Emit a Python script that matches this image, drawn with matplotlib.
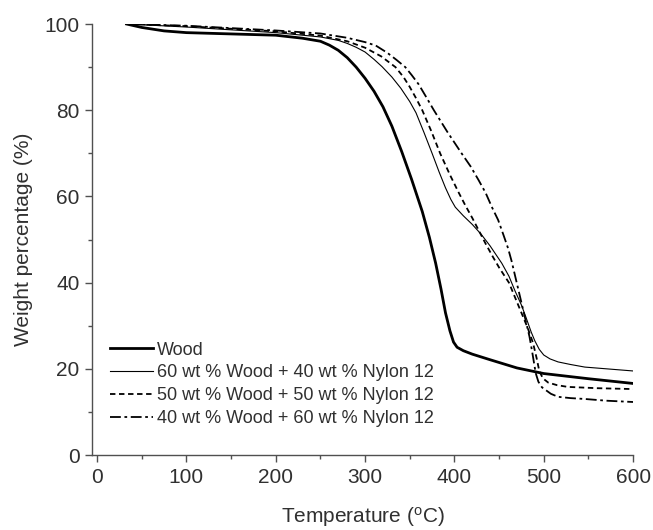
import matplotlib.pyplot as plt
from matplotlib.ticker import MultipleLocator

# TGA curves (temperature in C, weight in %)
wood_t = [33, 50, 75, 100, 150, 200, 230, 250, 260, 270, 280, 290, 300, 310,
          320, 330, 341, 352, 364, 372, 379, 385, 390, 395, 399, 403, 410, 420,
          440, 470, 500, 550, 600]
wood_w = [100, 99.2, 98.4, 98.0, 97.7, 97.4, 96.7, 96.0, 95.1, 93.9, 92.2, 90,
          87.4, 84.4, 80.8, 76.3, 70.4, 64, 56.5, 50.5, 44.5, 38.5, 33, 28.8, 26.2,
          25, 24.2, 23.4, 22.1, 20.2, 18.9, 17.7, 16.6]

w60_t = [35, 100, 200, 250, 270, 280, 290, 300, 310, 319, 330, 340, 350, 357,
         366, 375, 383, 390, 396, 401, 410, 420, 430, 440, 453, 461, 468, 475,
         480, 486, 490, 495, 500, 507, 516, 530, 546, 570, 600]
w60_w = [100, 99.3, 98.0, 97, 96.2, 95.5, 94.6, 93.5, 91.8, 90.1, 87.7, 85.1, 82,
         79.4, 74.8, 70, 65.6, 62, 59.3, 57.5, 55.5, 53.5, 51.2, 48.5, 44.5, 41.5,
         38, 34.8, 32, 28.5, 26.5, 24.5, 23.2, 22.3, 21.6, 21, 20.4, 20, 19.5]

w50_t = [35, 100, 200, 250, 280, 300, 318, 334, 343, 350, 357, 364, 374, 384,
         395, 405, 412, 420, 428, 435, 443, 450, 461, 468, 475, 482, 488, 492,
         495, 499, 505, 515, 527, 560, 600]
w50_w = [100, 99.5, 98.3, 97.3, 96, 94.5, 92.5, 90, 87.7, 85.4, 82.8, 80, 75.2, 70,
         65, 60.8, 58, 55, 51.8, 49, 46, 43.5, 40, 36.5, 33, 29.5, 26, 22.5,
         19.5, 17.8, 16.8, 16.2, 15.8, 15.5, 15.3]

w40_t = [35, 100, 200, 250, 280, 300, 312, 325, 335, 345, 352, 360, 368, 377,
         392, 408, 418, 427, 435, 442, 449, 455, 460, 464, 468, 472, 476, 480,
         484, 487, 489, 491, 494, 498, 502, 508, 516, 530, 546, 570, 600]
w40_w = [100, 99.6, 98.5, 97.8, 96.8, 95.8, 95, 93.3, 91.7, 90, 88.2, 86, 83.2,
         80, 75, 70, 67, 63.8, 60.8, 57.5, 54.5, 51, 48, 45, 41.5, 38, 34.5, 31,
         27.5, 24, 21.5, 19, 17, 15.7, 15.1, 14.2, 13.5, 13.2, 13, 12.6, 12.3]

labels = ["Wood",
          "60 wt % Wood + 40 wt % Nylon 12",
          "50 wt % Wood + 50 wt % Nylon 12",
          "40 wt % Wood + 60 wt % Nylon 12"]

plt.rcParams['font.family'] = ['Liberation Sans', 'DejaVu Sans']
plt.rcParams['mathtext.fontset'] = 'custom'
plt.rcParams['mathtext.rm'] = 'Liberation Sans'

fig = plt.figure(figsize=(6.53, 5.30), dpi=100)
ax = fig.add_axes([0.141, 0.1415, 0.8285, 0.8132])

ax.plot(wood_t, wood_w, color="black", lw=2.0, label=labels[0])
ax.plot(w60_t, w60_w, color="black", lw=0.8, label=labels[1])
ax.plot(w50_t, w50_w, color="black", lw=1.3, dashes=(3, 2), label=labels[2])
ax.plot(w40_t, w40_w, color="black", lw=1.3, dashes=(6, 2, 1.5, 2), label=labels[3])

ax.set_xlim(-5.6, 600)
ax.set_ylim(0, 100)
ax.xaxis.set_major_locator(MultipleLocator(100))
ax.xaxis.set_minor_locator(MultipleLocator(50))
ax.yaxis.set_major_locator(MultipleLocator(20))
ax.yaxis.set_minor_locator(MultipleLocator(10))

for side in ["top", "right"]:
    ax.spines[side].set_visible(False)
for side in ["left", "bottom"]:
    ax.spines[side].set_color("#505050")
    ax.spines[side].set_linewidth(1.0)

ax.tick_params(which="major", direction="out", length=5, width=1,
               color="#505050", labelsize=15, labelcolor="#303030", pad=4)
ax.tick_params(which="minor", direction="out", length=3, width=1, color="#505050")

ax.set_xlabel(r"Temperature ($\mathregular{^{o}}$C)", fontsize=15, color="#303030", labelpad=13)
ax.set_ylabel("Weight percentage (%)", fontsize=15, color="#303030", labelpad=8)

ax.legend(loc="upper left", bbox_to_anchor=(0.033, 0.263), frameon=False,
          fontsize=13, handlelength=2.4, handletextpad=0.22, labelspacing=0.32,
          borderpad=0, borderaxespad=0, labelcolor="#303030")

plt.savefig("out.png", dpi=100)
